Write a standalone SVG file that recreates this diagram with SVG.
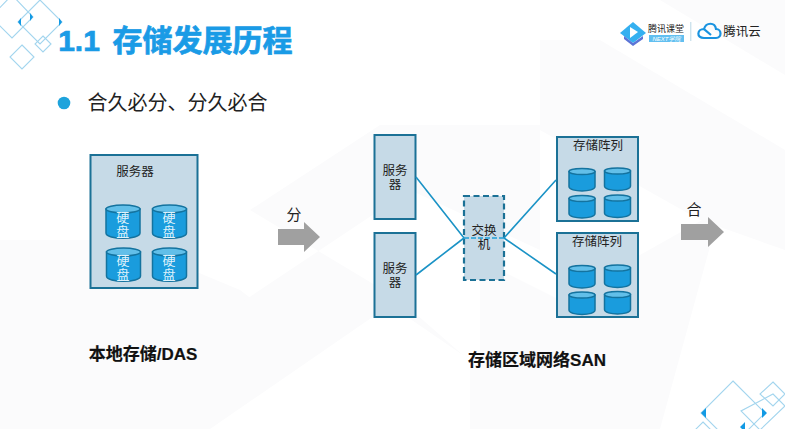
<svg xmlns="http://www.w3.org/2000/svg" width="785" height="429" viewBox="0 0 785 429">
<style>
text{font-family:"Liberation Sans","Noto Sans CJK SC",sans-serif;text-anchor:middle;dominant-baseline:central;fill:#222}
.box{fill:#c6dae7;stroke:#1b7196;stroke-width:2}
.sw{fill:#c6dae7;stroke:#1b7196;stroke-width:2.2;stroke-dasharray:6 3.5}
.cb{fill:#1a9cdd;stroke:#14739f;stroke-width:1.5}
.ct{fill:#62bfe9;stroke:#14739f;stroke-width:1.5}
.l{fill:none;stroke:#1b93c6;stroke-width:1.6}
.ld{fill:none;stroke:#22a0d8;stroke-width:1.6;stroke-dasharray:5 2}
.d{fill:none;stroke:#a3d5ee;stroke-width:1.1}
.m{fill:#129ae4}
.ar{fill:#a0a0a0}
.t12{font-size:12.500px}.w{font-size:13px;fill:#dff2fb}
.b{font-size:17px;font-weight:700;fill:#111;stroke:#111;stroke-width:.2}
.bg{fill:#fbfbfc}
.ti{font-size:30px;font-weight:700;fill:#1a9be6;stroke:#1a9be6;stroke-width:.7}
</style>
<defs>
<g id="c1"><path class="cb" d="M0 5V29C0 36 34 36 34 29V5Z"/><ellipse class="ct" cx="17" cy="5" rx="17" ry="4"/></g>
<g id="c2"><path class="cb" d="M0 4V19C0 25 26 25 26 19V4Z"/><ellipse class="ct" cx="13" cy="4" rx="13" ry="3"/></g>
</defs>
<rect width="785" height="429" fill="#fff"/>
<g id="background">
<polygon class="bg" points="0,240 0,429 300,429 420,429 240,290 120,240"/>
<polygon class="bg" points="200,429 200,330 410,190 540,250 540,125 380,125 250,210 400,300 480,370 480,429"/>
<polygon class="bg" points="480,429 480,260 560,300 720,210 660,429"/>
<polygon class="bg" points="660,0 785,75 785,0"/>
<polygon class="bg" points="600,40 785,150 785,250 700,220 540,130 540,40"/>
<polygon fill="#fff" points="210,429 390,305 470,360 470,429"/>
</g>
<g id="decor-top-left">
<polygon class="d" points="40,0 62,22 40,44 18,22"/>
<polygon class="d" points="12,-5 33,17 12,38 -9,17"/>
<polygon class="d" points="43,36 51,44 43,52 35,44"/>
<polygon class="d" points="22,45 34,57 22,69 10,57"/>
<path class="m" d="M18 22l3-4v8zM33 17l-3-4v8zM62 22l-3-4v8z"/>
</g>
<g id="decor-bottom-right">
<polygon class="d" points="733,381 765,413 733,445 701,413"/>
<polygon class="d" points="773,382 785,394 773,406 760,394"/>
<polygon class="d" points="773,394 785,406 760,430 741,411"/>
<polygon class="d" points="703,422 720,439 686,439"/>
<path class="m" d="M701 413l5-5v10zM767 413l-5-5v10zM740 427l5-5v10z"/>
</g>
<g id="title"><text class="ti" x="79" y="40">1.1</text><text class="ti" x="202.500" y="40">存储发展历程</text></g>
<g id="bullet"><circle cx="64" cy="103" r="6.300" fill="#1ea3dc"/><text x="177.500" y="103" font-size="20">合久必分、分久必合</text></g>
<g id="logo-tencent-class">
<path fill="#35b0f0" d="M620 33L633 22L646 33L633 43Z"/>
<path fill="#5b74d6" d="M624 39L633 46L643 39L643 36L633 43L624 36Z"/>
<path fill="#fff" d="M630 27L638 32L630 38Z"/>
<text x="666" y="29" font-size="9">腾讯课堂</text>
<rect x="649" y="35" width="35" height="7" fill="#62bff0"/>
<text x="666.500" y="38.500" font-size="6" font-style="italic" style="fill:#fff">NEXT学院</text>
</g>
<rect id="logo-divider" x="690.300" y="22" width="1" height="19" fill="#b9d7e6"/>
<g id="logo-tencent-cloud">
<path fill="none" stroke="#1a93e0" stroke-width="2.200" d="M704 38H716C722 38 722 29 716 29C715 22 706 22 704 29L711 35M704 38C696 38 697 29 704 29"/>
<text x="742" y="32" font-size="12.500">腾讯云</text>
</g>
<g id="das-server">
<rect class="box" x="90.500" y="155" width="107" height="133"/>
<text class="t12" x="135" y="172">服务器</text>
<use href="#c1" x="106" y="204"/><use href="#c1" x="152.500" y="204"/><use href="#c1" x="106.500" y="247"/><use href="#c1" x="152.500" y="247"/>
<text class="w" x="122.700" y="217">硬</text><text class="w" x="122.700" y="231">盘</text>
<text class="w" x="169" y="217">硬</text><text class="w" x="169" y="231">盘</text>
<text class="w" x="123" y="260">硬</text><text class="w" x="123" y="274">盘</text>
<text class="w" x="169" y="260">硬</text><text class="w" x="169" y="274">盘</text>
</g>
<g id="arrow-split"><polygon class="ar" points="278,229 304,229 304,222 320,237 304,252 304,245 278,245"/><text x="294" y="214" font-size="15">分</text></g>
<g id="san-server-1"><rect class="box" x="374.500" y="135" width="41" height="84"/><text class="t12" x="395" y="170.500">服务</text><text class="t12" x="395" y="184.500">器</text></g>
<g id="san-server-2"><rect class="box" x="374.500" y="233" width="41" height="84"/><text class="t12" x="395" y="268.500">服务</text><text class="t12" x="395" y="282.500">器</text></g>
<g id="san-switch"><rect class="sw" x="464" y="196" width="40" height="84"/><text class="t12" x="484" y="231">交换</text><text class="t12" x="484" y="245">机</text></g>
<g id="array-1">
<rect class="box" x="557" y="137" width="81" height="84"/>
<text class="t12" x="598" y="145.500">存储阵列</text>
<use href="#c2" x="569" y="167.500"/><use href="#c2" x="604.500" y="167"/><use href="#c2" x="569" y="194.500"/><use href="#c2" x="604.500" y="194"/>
</g>
<g id="array-2">
<rect class="box" x="557" y="233" width="81" height="84"/>
<text class="t12" x="597" y="242">存储阵列</text>
<use href="#c2" x="569" y="264.500"/><use href="#c2" x="604.500" y="264"/><use href="#c2" x="569" y="291"/><use href="#c2" x="604.500" y="290.500"/>
</g>
<g id="connectors">
<path class="l" d="M416 177L464 238M416 275L464 238M504 238L556 180M504 238L556 274"/>
<path class="ld" d="M464 238H504"/>
</g>
<g id="arrow-merge"><polygon class="ar" points="681,224 708,224 708,217 724,232 708,247 708,240 681,240"/><text x="694" y="209" font-size="15">合</text></g>
<text class="b" x="143" y="354">本地存储/DAS</text>
<text class="b" x="537" y="360">存储区域网络SAN</text>
</svg>
